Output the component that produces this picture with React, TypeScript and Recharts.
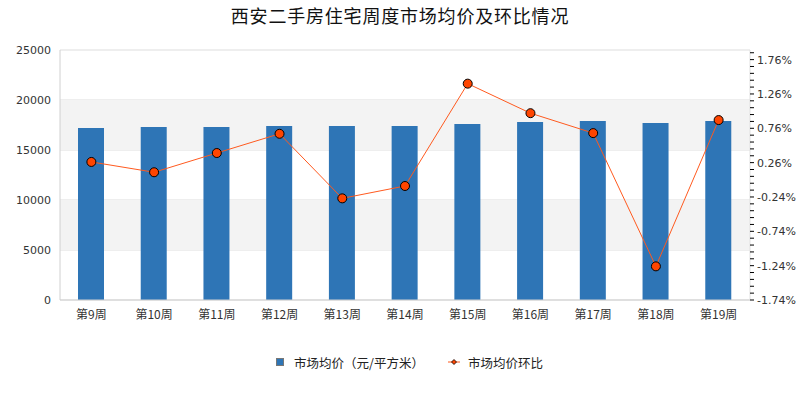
import React from 'react';
import {
  ComposedChart,
  Bar,
  Line,
  XAxis,
  YAxis,
  CartesianGrid,
  ReferenceArea,
} from 'recharts';

const weeks = ['第9周', '第10周', '第11周', '第12周', '第13周', '第14周', '第15周', '第16周', '第17周', '第18周', '第19周'];
const avgPrice = [17200, 17300, 17300, 17400, 17400, 17400, 17600, 17800, 17900, 17700, 17900];
const momChange = [0.27, 0.12, 0.4, 0.68, -0.26, -0.08, 1.41, 0.98, 0.69, -1.25, 0.88];

const leftTicks = [0, 5000, 10000, 15000, 20000, 25000];
const rightMajor = [-1.74, -1.24, -0.74, -0.24, 0.26, 0.76, 1.26, 1.76];
// minor ticks every 0.1% between labels
const rightTicks: number[] = [];
for (let i = 0; i <= 36; i++) rightTicks.push(Math.round((-1.74 + i * 0.1) * 100) / 100);

const data = weeks.map((w, i) => ({ week: w, price: avgPrice[i], mom: momChange[i] }));

const FONT = 'DejaVu Sans, sans-serif';
const CJK = '"Noto Sans CJK SC", sans-serif';

const RightTick = (props: any) => {
  const { x, y, payload } = props;
  if (!rightMajor.includes(payload.value)) return null;
  return (
    <text x={x} y={y} dy={4} fill="#333" fontSize={11} fontFamily={FONT} textAnchor="start">
      {payload.value.toFixed(2) + '%'}
    </text>
  );
};

const XTick = (props: any) => {
  const { x, y, payload } = props;
  return (
    <text x={x} y={y} dy={11} fill="#333" fontSize={12} fontFamily={CJK} textAnchor="middle">
      {payload.value}
    </text>
  );
};

export default function App() {
  return (
    <div style={{ position: 'absolute', left: 0, top: 0, width: 800, height: 400, background: '#fff' }}>
      <div
        style={{
          position: 'absolute',
          top: 2,
          width: 800,
          textAlign: 'center',
          fontFamily: CJK,
          fontSize: 18,
          color: '#111',
          letterSpacing: 0.8,
        }}
      >
        西安二手房住宅周度市场均价及环比情况
      </div>
      <ComposedChart width={800} height={400} data={data} margin={{ top: 50, right: 0, bottom: 70, left: 0 }}>
        <ReferenceArea yAxisId="left" y1={5000} y2={10000} fill="#f3f3f3" fillOpacity={1} stroke="none" />
        <ReferenceArea yAxisId="left" y1={15000} y2={20000} fill="#f3f3f3" fillOpacity={1} stroke="none" />
        <CartesianGrid yAxisId="left" vertical={false} stroke="#dddddd" horizontalValues={leftTicks} />
        <XAxis
          dataKey="week"
          height={30}
          axisLine={{ stroke: '#d0d0d0' }}
          tickLine={false}
          tick={<XTick />}
          interval={0}
        />
        <YAxis
          yAxisId="left"
          width={60}
          domain={[0, 25000]}
          ticks={leftTicks}
          axisLine={{ stroke: '#d0d0d0' }}
          tickLine={false}
          tick={{ fill: '#333', fontSize: 11, fontFamily: FONT }}
          tickMargin={3}
        />
        <YAxis
          yAxisId="right"
          orientation="right"
          width={50}
          domain={[-1.74, 1.9]}
          ticks={rightTicks}
          interval={0}
          axisLine={{ stroke: '#e0e0e0' }}
          tickLine={{ stroke: '#000' }}
          tickSize={4}
          tickMargin={3}
          tick={<RightTick />}
        />
        <Bar yAxisId="left" dataKey="price" fill="#2E75B6" barSize={26} isAnimationActive={false} />
        <Line
          yAxisId="right"
          dataKey="mom"
          stroke="#FF5A1F"
          strokeWidth={1}
          dot={{ r: 4.5, fill: '#FF4500', stroke: '#000', strokeWidth: 1 }}
          isAnimationActive={false}
        />
      </ComposedChart>
      <div
        style={{
          position: 'absolute',
          top: 352,
          left: 0,
          width: 800,
          height: 20,
          fontFamily: CJK,
          fontSize: 12.5,
          color: '#222',
        }}
      >
        <span
          style={{
            position: 'absolute',
            left: 276,
            top: 6,
            width: 6,
            height: 6,
            background: '#2E75B6',
            border: '1px solid #777',
          }}
        />
        <span style={{ position: 'absolute', left: 294, top: 1 }}>市场均价（元/平方米）</span>
        <svg style={{ position: 'absolute', left: 447, top: 4 }} width={14} height={12}>
          <line x1={1} y1={6} x2={13} y2={6} stroke="#FF5A1F" strokeWidth={1} />
          <polygon points="7,3.5 9.5,6 7,8.5 4.5,6" fill="#FF4500" stroke="#000" strokeWidth={0.8} />
        </svg>
        <span style={{ position: 'absolute', left: 468, top: 1 }}>市场均价环比</span>
      </div>
    </div>
  );
}
